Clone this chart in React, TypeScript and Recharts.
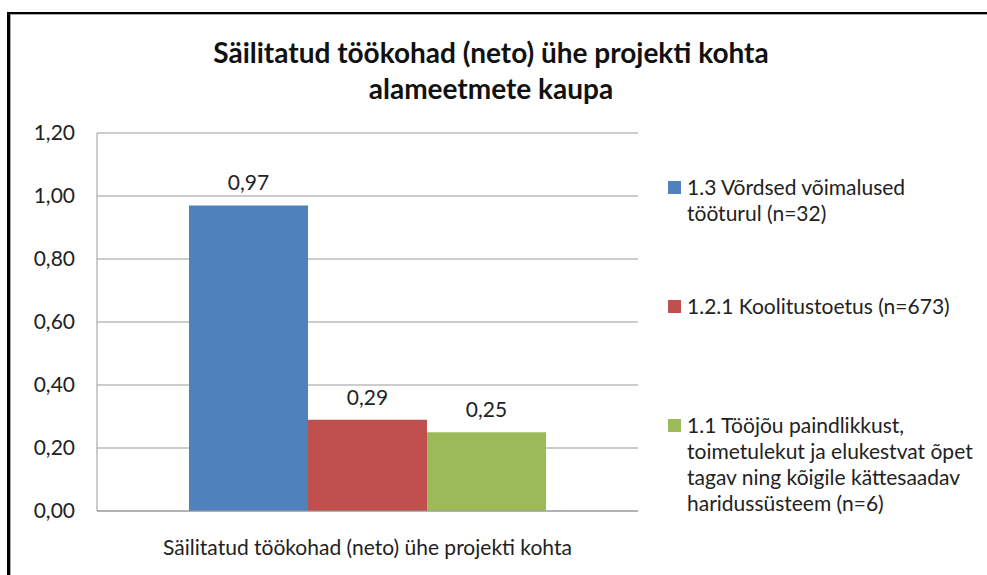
import React from 'react';
import { BarChart, Bar, XAxis, YAxis, CartesianGrid, Legend, LabelList } from 'recharts';

const categories = ['Säilitatud töökohad (neto) ühe projekti kohta'];
const vordsedVoimalused = [0.97];
const koolitustoetus = [0.29];
const toojouPaindlikkus = [0.25];
const yTicks = [0, 0.2, 0.4, 0.6, 0.8, 1.0, 1.2];

const seriesNames = [
  '1.3 Võrdsed võimalused\ntööturul (n=32)',
  '1.2.1 Koolitustoetus (n=673)',
  '1.1 Tööjõu paindlikkust,\ntoimetulekut ja elukestvat õpet\ntagav ning kõigile kättesaadav\nharidussüsteem (n=6)',
];
const seriesColors = ['#4F81BD', '#C0504D', '#9BBB59'];

const data = categories.map((c, i) => ({
  name: c,
  s13: vordsedVoimalused[i],
  s121: koolitustoetus[i],
  s11: toojouPaindlikkus[i],
}));

const FONT = 'Lato, "Open Sans", sans-serif';
const FS = 21;
const comma = (v: number) => v.toFixed(2).replace('.', ',');

const renderLegend = (props: any) => {
  // keep the series order (recharts sorts legend items by name)
  const items = [...(props.payload || [])].sort(
    (a: any, b: any) => seriesNames.indexOf(a.value) - seriesNames.indexOf(b.value)
  );
  return (
    <div style={{ fontFamily: FONT, fontSize: FS, color: '#222' }}>
      {items.map((p: any, i: number) => (
        <div key={i} style={{ display: 'flex', alignItems: 'flex-start', height: i < items.length - 1 ? 119 : 'auto' }}>
          <div style={{ width: 13, height: 13, background: p.color, marginTop: 7, marginRight: 6, flexShrink: 0 }} />
          <div style={{ whiteSpace: 'pre-line', lineHeight: '26px' }}>{p.value}</div>
        </div>
      ))}
    </div>
  );
};

export default function App() {
  return (
    <div style={{ position: 'absolute', left: 0, top: 0, width: 987, height: 575, overflow: 'hidden', background: '#fff' }}>
      {/* frame */}
      <div style={{ position: 'absolute', left: 7, top: 12, width: 1000, height: 600, borderLeft: '3px solid #000', borderTop: '2px solid #000' }}>
        <div style={{ width: '100%', height: '100%', borderLeft: '1px solid #a6a6a6', borderTop: '1px solid #a6a6a6' }} />
      </div>
      <div style={{ position: 'absolute', left: 0, top: 34, width: 982, textAlign: 'center', fontFamily: FONT, fontWeight: 700, fontSize: 28, lineHeight: '36px', color: '#111' }}>
        Säilitatud töökohad (neto) ühe projekti kohta
        <br />
        alameetmete kaupa
      </div>
      <div style={{ position: 'absolute', left: 0, top: 0 }}>
        <BarChart
          width={987}
          height={575}
          data={data}
          margin={{ top: 133, right: 39, bottom: 14, left: 0 }}
          barCategoryGap={92}
          barGap={0}
        >
          <CartesianGrid vertical={false} stroke="#999" />
          <XAxis
            dataKey="name"
            height={50}
            axisLine={{ stroke: '#999' }}
            tickLine={false}
            tickSize={0}
            tickMargin={29}
            tick={{ fill: '#222', fontSize: FS, fontFamily: FONT }}
          />
          <YAxis
            width={97}
            domain={[0, 1.2]}
            ticks={yTicks}
            tickFormatter={comma}
            axisLine={{ stroke: '#999' }}
            tickLine={false}
            tickSize={0}
            tickMargin={22}
            tick={{ fill: '#222', fontSize: FS, fontFamily: FONT }}
          />
          <Legend
            layout="vertical"
            align="right"
            verticalAlign="top"
            content={renderLegend}
            wrapperStyle={{ left: 668, top: 174, width: 310 }}
          />
          <Bar dataKey="s13" name={seriesNames[0]} fill={seriesColors[0]} isAnimationActive={false}>
            <LabelList dataKey="s13" position="top" offset={15} formatter={comma} style={{ fill: '#222', fontSize: FS, fontFamily: FONT }} />
          </Bar>
          <Bar dataKey="s121" name={seriesNames[1]} fill={seriesColors[1]} isAnimationActive={false}>
            <LabelList dataKey="s121" position="top" offset={15} formatter={comma} style={{ fill: '#222', fontSize: FS, fontFamily: FONT }} />
          </Bar>
          <Bar dataKey="s11" name={seriesNames[2]} fill={seriesColors[2]} isAnimationActive={false}>
            <LabelList dataKey="s11" position="top" offset={15} formatter={comma} style={{ fill: '#222', fontSize: FS, fontFamily: FONT }} />
          </Bar>
        </BarChart>
      </div>
    </div>
  );
}
